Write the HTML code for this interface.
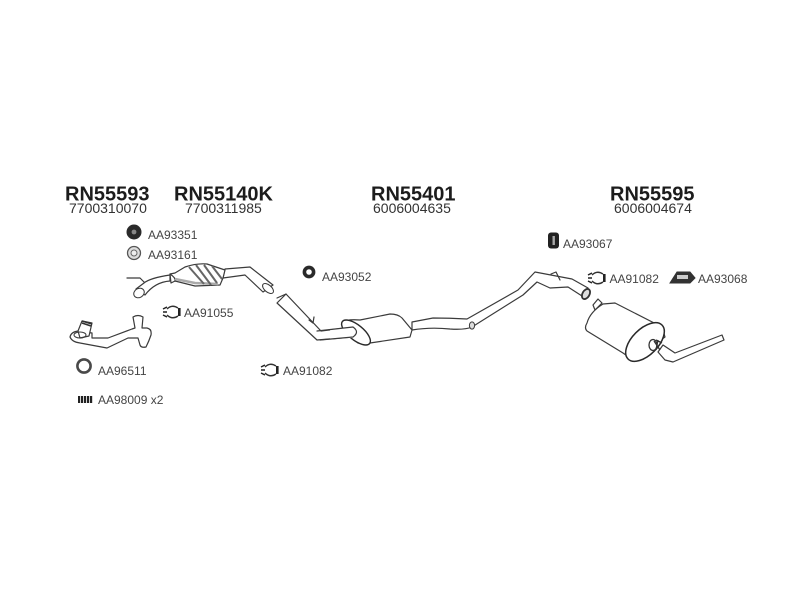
<!DOCTYPE html>
<html><head><meta charset="utf-8"><style>
html,body{margin:0;padding:0;background:#fff}
svg{display:block}
.h{font:bold 20px "Liberation Sans",sans-serif;fill:#1c1c1c}
.s{font:14px "Liberation Sans",sans-serif;fill:#333}
.l{font:12px "Liberation Sans",sans-serif;fill:#444}
.p{fill:#fff;stroke:#3a3a3a;stroke-width:1.2;stroke-linejoin:round;stroke-linecap:round}
.n{fill:none;stroke:#3a3a3a;stroke-width:1.2;stroke-linecap:round;stroke-linejoin:round}
</style></head><body>
<svg width="800" height="600" viewBox="0 0 800 600" xmlns="http://www.w3.org/2000/svg">
<defs>
<filter id="b" x="0" y="0" width="100%" height="100%"><feGaussianBlur stdDeviation="0.38"/></filter>
<g id="clamp"><path d="M-9 -3 L-5 -5 M-9 0 L-5 0 M-9 3 L-5 5" fill="none" stroke="#222" stroke-width="1.5"/><path d="M-5 -3 Q0 -8 6 -4 M-5 3 Q0 8 6 4" fill="none" stroke="#333" stroke-width="1.4"/><rect x="6" y="-4" width="2.6" height="8" fill="#222"/></g>
</defs>
<rect width="800" height="600" fill="#fff"/>
<g filter="url(#b)">
<text class="h" x="65" y="200.5">RN55593</text>
<text class="h" x="174" y="200.5">RN55140K</text>
<text class="h" x="371" y="200.5">RN55401</text>
<text class="h" x="610" y="200.5">RN55595</text>
<text class="s" x="69" y="213">7700310070</text>
<text class="s" x="185" y="213">7700311985</text>
<text class="s" x="373" y="213">6006004635</text>
<text class="s" x="614" y="213">6006004674</text>
<text class="l" x="148" y="239">AA93351</text>
<text class="l" x="148" y="259">AA93161</text>
<text class="l" x="184" y="317">AA91055</text>
<text class="l" x="98" y="375">AA96511</text>
<text class="l" x="98" y="404">AA98009 x2</text>
<text class="l" x="283" y="375">AA91082</text>
<text class="l" x="322" y="281">AA93052</text>
<text class="l" x="563" y="248">AA93067</text>
<text class="l" x="609.5" y="283">AA91082</text>
<text class="l" x="698" y="283">AA93068</text>

<!-- small icons -->
<circle cx="134" cy="232" r="7.5" fill="#2a2a2a"/><circle cx="134" cy="232" r="2.4" fill="#888"/>
<circle cx="134" cy="253" r="6.5" fill="#ddd" stroke="#555" stroke-width="1.3"/><circle cx="134" cy="253" r="3" fill="#eee" stroke="#666"/>
<use href="#clamp" x="172" y="312"/>
<circle cx="84" cy="366" r="6.6" fill="none" stroke="#4a4a4a" stroke-width="2.6"/>
<g fill="#222"><rect x="78" y="396" width="2.2" height="7"/><rect x="81" y="396" width="2.2" height="7"/><rect x="84" y="396" width="2.2" height="7"/><rect x="87" y="396" width="2.2" height="7"/><rect x="90" y="396" width="2.2" height="7"/></g>
<use href="#clamp" x="270" y="370"/>
<circle cx="309" cy="272" r="4.6" fill="none" stroke="#2a2a2a" stroke-width="3.6"/>
<rect x="548" y="232.5" width="11" height="16" rx="3" fill="#222"/><rect x="552.5" y="236" width="2.4" height="9" fill="#aaa"/>
<use href="#clamp" x="597" y="278"/>
<path d="M670 283 L677 272 L690 272 L695 278 L690 283 Z" fill="#333" stroke="#333"/><rect x="677" y="275" width="11" height="4" fill="#ccc"/>

<!-- front down pipe -->
<path class="p" d="M133 317 Q138 314 143 317 L142 328 L147 328 Q152 329 151 335 Q149 341 146 347 Q141 348 140 345 L138 338 L128 338 L107 348 L80 343 Q72 342 70 337 Q71 332 78 331 L92 333 L92 338 L108 338 L132 329 L135 328 Z"/>
<path class="p" d="M78 331 L82 321 L92 323 L89 336 L80 338 Z"/>
<path d="M82 321 L92 324 M82 323 L91 326" stroke="#333" stroke-width="1.6" fill="none"/>
<ellipse cx="80" cy="335" rx="6" ry="3" fill="none" stroke="#3a3a3a"/>

<!-- catalytic converter -->
<path class="n" d="M127 278 L140 278 L145 283" stroke-width="1.5"/>
<path class="p" d="M144 283 Q150 278 170 275 L170 281 Q155 282 145 295 L136 289 Z"/>
<ellipse cx="139" cy="293" rx="5.5" ry="4.5" transform="rotate(-30 139 293)" fill="#fff" stroke="#3a3a3a"/>
<path class="p" d="M225 269 L250 267 L273 285 L263 292 L245 275 L223 278 Z"/>
<ellipse cx="268" cy="288.5" rx="3.5" ry="6.5" transform="rotate(-50 268 288.5)" fill="#fff" stroke="#3a3a3a"/>
<path class="p" d="M170 274 L175 273 L185 267 Q197 263 207 264 L225 270 L223 278 L220 285 L195 286 L175 281 L171 283 Z"/>
<path class="n" d="M170 274 Q176 278 175 281"/>
<path d="M175 279 L195 283 L218 284" stroke="#aaa" stroke-width="2.5" fill="none"/>
<path d="M189 267 L204 284 M196 265 L211 285 M204 265 L217 283 M212 266 L222 279" stroke="#666" stroke-width="2" fill="none"/>

<!-- intermediate pipe and centre muffler -->
<path class="p" d="M277 303 L286 294 L321 331 L345 328 L353 337 L317 340 Z"/>
<path class="n" d="M277 298 L286 294 M309 320 L313 323 L314 317"/>
<path class="p" d="M412 322 L433 318 Q450 318 467 319 L518 290 L535 272 L572 279 L588 288 L582 296 L568 287 L550 288 L537 282 L523 295 L472 327 Q465 330 450 329 Q430 327 412 330 Z"/>
<path class="p" d="M343 322 Q347 319 360 320 L390 314 Q398 314 402 318 L412 330 L410 337 L370 343 L358 343 Z"/>
<ellipse cx="356" cy="332.5" rx="17.5" ry="7.5" transform="rotate(39 356 332.5)" fill="#fff" stroke="#2a2a2a" stroke-width="1.4"/>
<path d="M330 330 L343 328 L353 327 Q360 332 352 338 L330 339 Z" fill="#fff" stroke="none"/>
<path class="n" d="M317 331 L353 327 Q360 332 353 337 L320 340"/>
<ellipse cx="472" cy="325.5" rx="2.6" ry="3.6" fill="#ddd" stroke="#3a3a3a"/>
<path class="n" d="M551 274 L556 272 L560 280"/>
<ellipse cx="586" cy="294" rx="3.5" ry="5.5" transform="rotate(30 586 294)" fill="#ddd" stroke="#333" stroke-width="1.8"/>

<!-- rear muffler -->
<path class="p" d="M593 305 L598 299 L602 303 L595 310 Z"/>
<path class="p" d="M587 323 Q590 312 603 304 L615 303 L662 327 L665 337 L633 360 L623 353 L587 331 Q584 328 587 323 Z"/>
<ellipse cx="645" cy="342" rx="24" ry="13" transform="rotate(-45 645 342)" fill="#fff" stroke="#2a2a2a" stroke-width="1.5"/>
<path class="p" d="M663 345 L675 353 L722 335 L724 340 L673 362 L665 360 L658 352 Z"/>
<ellipse cx="653" cy="345" rx="4" ry="5.5" fill="#fff" stroke="#333" stroke-width="1.3"/>
<path d="M656 340 L662 343 M654 341 L660 350 M658 340 L656 350" stroke="#333" stroke-width="1.3" fill="none"/>
</g>
</svg>
</body></html>
